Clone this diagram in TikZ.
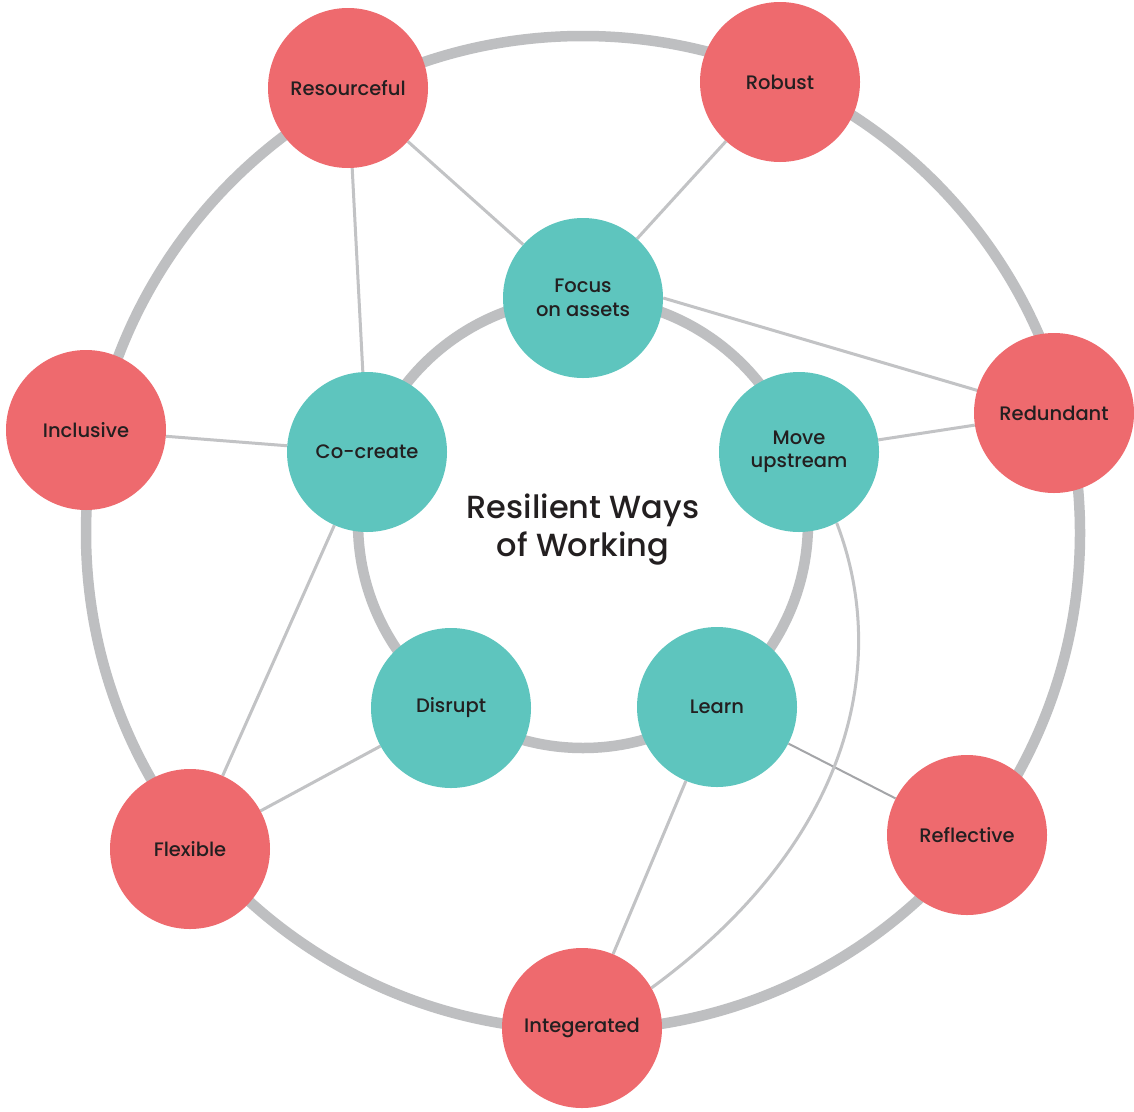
\documentclass[tikz,border=0pt]{standalone}
\usepackage{fontspec}
\setmainfont{Poppins}
\newfontfamily\medfont{Poppins Medium}
\usetikzlibrary{backgrounds}
\definecolor{ringgray}{HTML}{BEBFC1}
\definecolor{linkgray}{HTML}{C2C3C5}
\definecolor{darklink}{HTML}{A4A5A8}
\definecolor{redc}{HTML}{EE6A6E}
\definecolor{tealc}{HTML}{5EC5BE}
\definecolor{txt}{HTML}{231F20}
\begin{document}
\begin{tikzpicture}[x=1pt,y=-1pt,
  bubble/.style={circle, minimum size=160pt, inner sep=0pt, align=center, text=txt,
    font=\medfont\fontsize{19.5}{23.5}\selectfont},
  redn/.style={bubble, fill=redc},
  tealn/.style={bubble, fill=tealc},
  ring/.style={draw=ringgray, line width=10.5pt},
  link/.style={draw=linkgray, line width=3pt},
  thinlink/.style={draw=darklink, line width=2pt}]
\useasboundingbox (0,0) rectangle (1134,1111);
% outer nodes
\node[redn] (res) at (348,88) {Resourceful};
\node[redn] (rob) at (780,82) {Robust};
\node[redn] (red) at (1054,413) {Redundant};
\node[redn] (ref) at (967,835) {Reflective};
\node[redn] (int) at (582,1028) {Integerated};
\node[redn] (fle) at (190,849) {Flexible};
\node[redn] (inc) at (86,430) {Inclusive};
% inner nodes
\node[tealn] (foc) at (583,298) {Focus\\on assets};
\node[tealn] (coc) at (367,452) {Co-create};
\node[tealn] (mov) at (799,452) {Move\\upstream};
\node[tealn] (dis) at (451,708) {Disrupt};
\node[tealn] (lea) at (717,707) {Learn};
% title
\node[text=txt, align=center, font=\medfont\fontsize{32}{38}\selectfont] (title) at (583,530) {Resilient Ways\\of Working};
\coordinate (oc) at (583,533);
\coordinate (ic) at (583,523);
\begin{scope}[on background layer]
  \fill[white] (0,0) rectangle (1134,1111);
  \draw[ring] (oc) circle[radius=497pt];
  \draw[ring] (ic) circle[radius=225pt];
  \draw[link] (res) -- (foc);
  \draw[link] (res) -- (coc);
  \draw[link] (rob) -- (foc);
  \draw[link] (foc.east) -- (red.center);
  \draw[link] (mov) -- (red);
  \draw[link] (inc) -- (coc);
  \draw[link] (coc) -- (fle);
  \draw[link] (dis) -- (fle);
  \draw[thinlink] (lea) -- (ref);
  \draw[link] (lea) -- (int);
  \draw[link] (mov.-62) .. controls +(52,135) and +(205,-150) .. (int.30);
\end{scope}
\end{tikzpicture}
\end{document}
